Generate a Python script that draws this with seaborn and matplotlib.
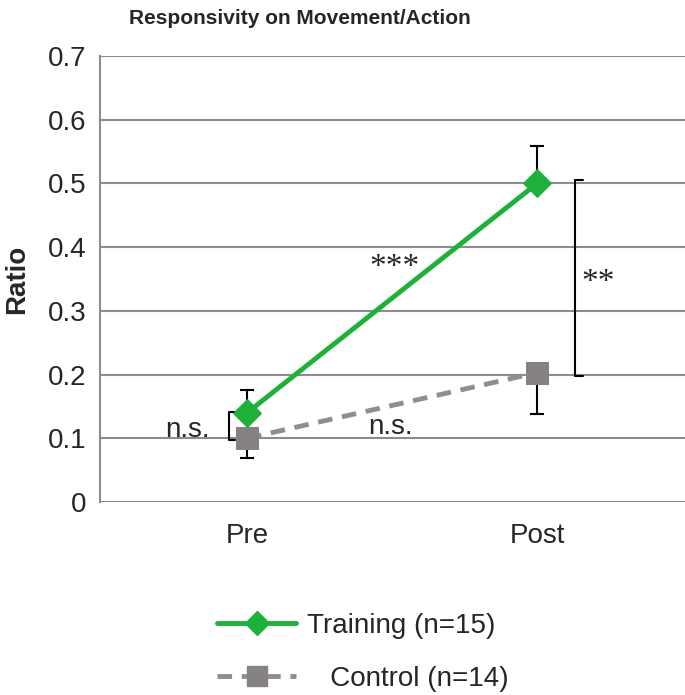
import pandas as pd
import seaborn as sns
import matplotlib.pyplot as plt
from matplotlib.lines import Line2D

# values
phases = ['Pre', 'Post']
training = [0.14, 0.50]
training_err = [0.036, 0.059]   # upper bars only
control = [0.10, 0.203]
control_err = [0.031, 0.065]    # lower bars only
yticks = [0, 0.1, 0.2, 0.3, 0.4, 0.5, 0.6, 0.7]
ytick_labels = ['0', '0.1', '0.2', '0.3', '0.4', '0.5', '0.6', '0.7']

sns.set_style('white')
plt.rcParams['font.family'] = ['Liberation Sans', 'DejaVu Sans']

green = '#1db13a'
grey_m = '#878282'
grey_l = '#8e8e8e'
grid_c = '#8c8c8c'

df = pd.DataFrame({
    'phase': phases * 2,
    'ratio': training + control,
    'group': ['Training (n=15)'] * 2 + ['Control (n=14)'] * 2,
})

fig = plt.figure(figsize=(6.85, 6.95), dpi=100)
ax = fig.add_axes([100 / 685, 1 - 502 / 695, 585 / 685, 446 / 695])

# error bars first so the markers sit on top
ax.errorbar(phases, training, yerr=[[0, 0], training_err], fmt='none',
            ecolor='black', elinewidth=1.5, capsize=5, capthick=1.5, zorder=2)
ax.errorbar(phases, control, yerr=[control_err, [0, 0]], fmt='none',
            ecolor='black', elinewidth=1.5, capsize=5, capthick=1.5, zorder=2)

tr = df[df['group'] == 'Training (n=15)']
co = df[df['group'] == 'Control (n=14)']
sns.lineplot(data=co, x='phase', y='ratio', ax=ax, color=grey_l, lw=3.5,
             linestyle=(0, (3, 2)), marker='s', markersize=16,
             markerfacecolor=grey_m, markeredgecolor=grey_m, zorder=3)
sns.lineplot(data=tr, x='phase', y='ratio', ax=ax, color=green, lw=3.5,
             marker='D', markersize=14, markerfacecolor=green,
             markeredgecolor=green, zorder=4)

ax.set_xlim(-0.507, 1.51)
ax.set_ylim(0, 0.7)
ax.set_yticks(yticks)
ax.set_yticklabels(ytick_labels)
ax.yaxis.grid(True, color=grid_c, lw=1.5)
ax.set_axisbelow(True)
for s in ['top', 'right', 'bottom']:
    ax.spines[s].set_visible(False)
ax.spines['left'].set_color(grid_c)
ax.spines['left'].set_linewidth(1.5)
ax.tick_params(axis='both', length=0, labelsize=20)
ax.tick_params(axis='y', pad=10)
ax.tick_params(axis='x', pad=15)
ax.set_xlabel('')
ax.set_ylabel('Ratio', fontsize=20, fontweight='bold')
ax.yaxis.set_label_coords(-0.119, 0.5)
if ax.get_legend():
    ax.get_legend().remove()

# significance brackets and labels
ax.plot([1.159, 1.131, 1.131, 1.159], [0.505, 0.505, 0.198, 0.198],
        color='black', lw=1.5, clip_on=False)
ax.plot([-0.042, -0.062, -0.062, -0.042], [0.141, 0.141, 0.097, 0.097],
        color='black', lw=1.5, clip_on=False)
ax.text(1.21, 0.344, '**', fontsize=24, family='Liberation Serif',
        ha='center', va='center')
ax.text(0.51, 0.368, '***', fontsize=24, family='Liberation Serif',
        ha='center', va='center')
ax.text(-0.204, 0.113, 'n.s.', fontsize=20, ha='center', va='center')
ax.text(0.493, 0.118, 'n.s.', fontsize=20, ha='center', va='center')

fig.text(0.438, 0.974, 'Responsivity on Movement/Action', fontsize=15,
         fontweight='bold', ha='center', va='center')

handles = [
    Line2D([], [], color=green, lw=3.5, marker='D', markersize=12,
           markerfacecolor=green, markeredgecolor=green),
    Line2D([], [], color=grey_l, lw=3.5, linestyle=(0, (3, 2)), marker='s',
           markersize=14, markerfacecolor=grey_m, markeredgecolor=grey_m),
]
fig.legend(handles, ['Training (n=15)', '   Control (n=14)'],
           loc='upper left', bbox_to_anchor=(217 / 685, 1 - 613 / 695),
           frameon=False, fontsize=20, handlelength=2.85, handletextpad=0.4,
           labelspacing=0.97, borderpad=0, borderaxespad=0)

fig.savefig('out.png', dpi=100)
